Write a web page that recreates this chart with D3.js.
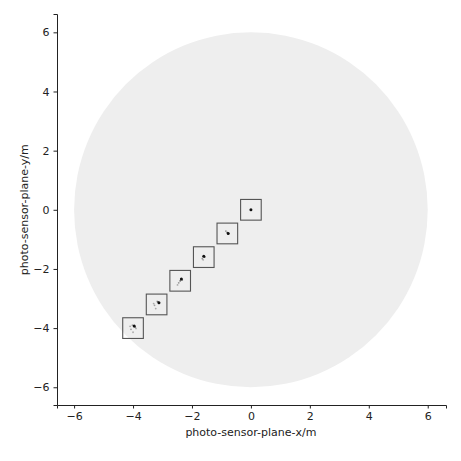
<!DOCTYPE html>
<html>
<head>
<meta charset="utf-8">
<script src="https://cdn.jsdelivr.net/npm/d3@7"></script>
<style>
  html, body { margin: 0; padding: 0; background: #fff; }
  svg { display: block; font-family: "DejaVu Sans", sans-serif; }
</style>
</head>
<body>
<div id="chart"></div>
<script>
// Sensor disk and the spot boxes along the diagonal
const sensorRadius = 6;
const boxCenters = [0, -0.8, -1.6, -2.4, -3.2, -4.0];
const boxHalf = 0.35;
const xTicks = [-6, -4, -2, 0, 2, 4, 6];
const yTicks = [-6, -4, -2, 0, 2, 4, 6];

// spot samples per box: [dx, dy, darkness] relative to box centre
const spots = [
    [[0.0, 0.0, 1]],
    [[0.03, 0.0, 1], [0.0, 0.03, 0.8], [-0.05, 0.08, 0.4]],
    [[0.0, 0.03, 1], [0.03, 0.0, 0.7], [-0.05, -0.05, 0.4], [-0.02, -0.09, 0.3]],
    [[0.04, 0.06, 1], [0.0, 0.0, 0.6], [-0.05, -0.07, 0.4], [-0.09, -0.14, 0.3], [0.07, 0.03, 0.4]],
    [[0.08, 0.06, 1], [0.05, 0.09, 0.6], [-0.07, -0.03, 0.35], [-0.03, -0.14, 0.3], [-0.1, 0.03, 0.3], [0.02, 0.1, 0.35]],
    [[0.04, 0.07, 1], [0.07, 0.04, 0.6], [-0.07, -0.04, 0.35], [0.0, -0.14, 0.3], [-0.1, 0.06, 0.3], [0.1, -0.01, 0.3], [-0.02, 0.1, 0.35]]
];

const W = 461, H = 461;
const margin = { top: 14, right: 15, bottom: 56, left: 57 };
const width = W - margin.left - margin.right;
const height = H - margin.top - margin.bottom;

const svg = d3.select('#chart').append('svg')
    .attr('width', W)
    .attr('height', H);

const g = svg.append('g')
    .attr('transform', `translate(${margin.left},${margin.top})`);

const x = d3.scaleLinear().domain([-6.58, 6.62]).range([0, width]);
const y = d3.scaleLinear().domain([-6.6, 6.62]).range([height, 0]);

// disk
g.append('ellipse')
    .attr('cx', x(0))
    .attr('cy', y(0))
    .attr('rx', x(sensorRadius) - x(0))
    .attr('ry', y(0) - y(sensorRadius))
    .attr('fill', '#eeeeee');

// boxes
boxCenters.forEach((c, i) => {
    g.append('rect')
        .attr('x', x(c - boxHalf))
        .attr('y', y(c + boxHalf))
        .attr('width', x(c + boxHalf) - x(c - boxHalf))
        .attr('height', y(c - boxHalf) - y(c + boxHalf))
        .attr('fill', 'none')
        .attr('stroke', '#555')
        .attr('stroke-width', 1.1);

    g.selectAll(`.spot-${i}`)
        .data(spots[i])
        .enter()
        .append('circle')
        .attr('class', `spot-${i}`)
        .attr('cx', d => x(c + d[0]))
        .attr('cy', d => y(c + d[1]))
        .attr('r', d => d[2] > 0.9 ? 1.5 : 0.9)
        .attr('fill', '#111')
        .attr('opacity', d => d[2]);
});

// axes
const fmt = d => d < 0 ? '\u2212' + Math.abs(d) : String(d);

const xAxis = g.append('g')
    .attr('transform', `translate(0,${height})`)
    .call(d3.axisBottom(x).tickValues(xTicks).tickFormat(fmt).tickSizeOuter(0).tickSize(3.5).tickPadding(4));

const yAxis = g.append('g')
    .call(d3.axisLeft(y).tickValues(yTicks).tickFormat(fmt).tickSizeOuter(0).tickSize(3.5).tickPadding(4));

[xAxis, yAxis].forEach(a => {
    a.select('.domain').attr('stroke', '#222').attr('stroke-width', 1);
    a.selectAll('.tick line').attr('stroke', '#222');
    a.selectAll('.tick text')
        .style('font-family', '"DejaVu Sans", sans-serif')
        .style('font-size', '11px')
        .attr('fill', '#222');
});

g.append('text')
    .attr('x', x(0))
    .attr('y', height + 31)
    .attr('text-anchor', 'middle')
    .style('font-size', '11px')
    .attr('fill', '#222')
    .text('photo-sensor-plane-x/m');

g.append('text')
    .attr('transform', `translate(${-29}, ${y(0)}) rotate(-90)`)
    .attr('text-anchor', 'middle')
    .style('font-size', '11px')
    .attr('fill', '#222')
    .text('photo-sensor-plane-y/m');
</script>
</body>
</html>
